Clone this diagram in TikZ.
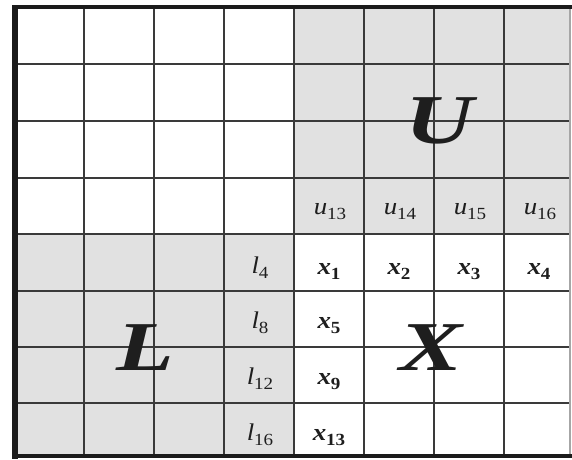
\documentclass[tikz,border=0pt]{standalone}
\usepackage{fontspec}
\usepackage{graphicx}
\setmainfont{Liberation Serif}
\definecolor{cellgray}{HTML}{E1E1E1}
\definecolor{linegray}{HTML}{3A3A3A}
\definecolor{inkcol}{HTML}{1E1E1E}
\newcommand{\mylab}[2]{\scalebox{1.12}[1]{{\fontsize{24}{24}\selectfont\itshape #1}\raisebox{-5pt}{\fontsize{17}{17}\selectfont #2}}}
\newcommand{\mybold}[2]{\scalebox{1.12}[1]{{\fontsize{24}{24}\selectfont\bfseries\itshape #1}\raisebox{-5pt}{\fontsize{17}{17}\selectfont\bfseries #2}}}
\newcommand{\mybig}[1]{\scalebox{1.35}[1]{#1}}
\tikzset{
  gridline/.style={draw=linegray, line width=1.6pt},
  frame/.style={draw=inkcol!90!black, line width=#1},
  shade/.style={fill=cellgray},
  biglet/.style={inner sep=0pt, anchor=base, text=inkcol, font=\fontsize{70}{70}\selectfont\bfseries\itshape},
  smlab/.style={inner sep=0pt, anchor=base, text=inkcol}
}
\begin{document}
\begin{tikzpicture}[x=1pt,y=-1pt]
\useasboundingbox (0,0) rectangle (572,459);
\fill[white] (0,0) rectangle (572,459);
% shaded blocks
\fill[shade] (294,8) rectangle (570,234);
\fill[shade] (16,234) rectangle (294,457);
% grid
\foreach \x in {84,154,224,294,364,434,504}
  \draw[gridline] (\x,8) -- (\x,457);
\foreach \y in {64,121,178,234,291,347,403}
  \draw[gridline] (16,\y) -- (570,\y);
% frame
\draw[draw=gray!70, line width=2pt] (570,7) -- (570,457);
\draw[frame=4pt] (13,7) -- (572,7);
\draw[frame=4pt] (13,456) -- (572,456);
\draw[frame=6pt] (15,5) -- (15,459);
% big letters
\node[biglet] (U) at (440,143) {\mybig{U}};
\node[biglet] (L) at (145,370) {\mybig{L}};
\node[biglet] (X) at (431,370) {\mybig{X}};
% u row
\node[smlab] (u13) at (330,214) {\mylab{u}{13}};
\node[smlab] (u14) at (400,214) {\mylab{u}{14}};
\node[smlab] (u15) at (470,214) {\mylab{u}{15}};
\node[smlab] (u16) at (540,214) {\mylab{u}{16}};
% l column
\node[smlab] (l4) at (260,273) {\mylab{l}{4}};
\node[smlab] (l8) at (260,328) {\mylab{l}{8}};
\node[smlab] (l12) at (260,384) {\mylab{l}{12}};
\node[smlab] (l16) at (260,440) {\mylab{l}{16}};
% x entries
\node[smlab] (x1) at (329,274) {\mybold{x}{1}};
\node[smlab] (x2) at (399,274) {\mybold{x}{2}};
\node[smlab] (x3) at (469,274) {\mybold{x}{3}};
\node[smlab] (x4) at (539,274) {\mybold{x}{4}};
\node[smlab] (x5) at (329,328) {\mybold{x}{5}};
\node[smlab] (x9) at (329,384) {\mybold{x}{9}};
\node[smlab] (x13) at (329,440) {\mybold{x}{13}};
\end{tikzpicture}
\end{document}
